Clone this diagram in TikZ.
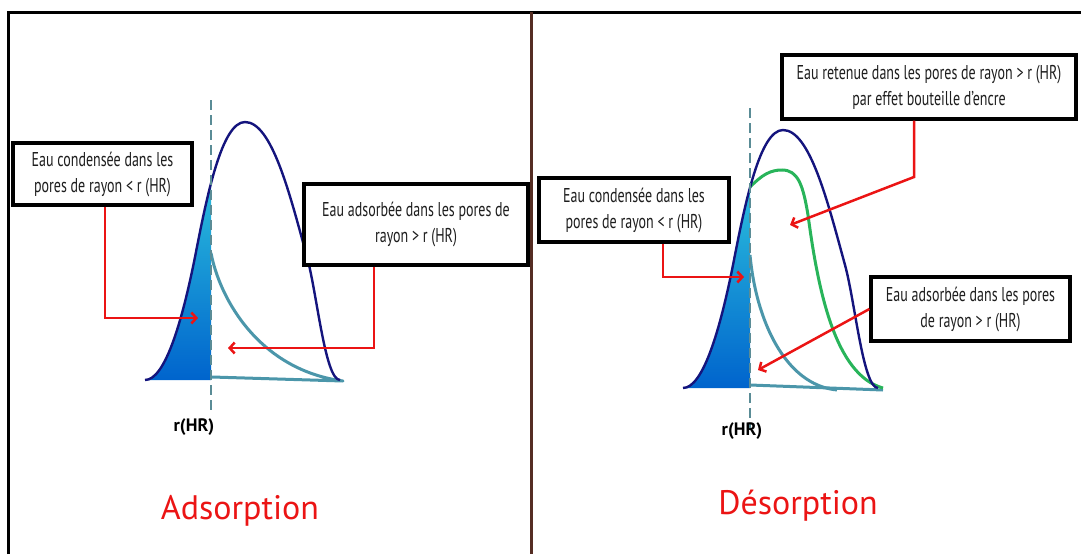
\documentclass[tikz,border=0pt]{standalone}
\usepackage{fontspec}
\setmainfont{PT Sans}
\newfontfamily\boxfont{PT Sans}[FakeStretch=0.7]
\usetikzlibrary{arrows.meta}
\definecolor{navyc}{RGB}{20,20,125}
\definecolor{tealc}{RGB}{75,150,170}
\definecolor{greenc}{RGB}{40,180,90}
\definecolor{dashc}{RGB}{90,140,150}
\definecolor{redc}{RGB}{235,20,20}
\definecolor{brownc}{RGB}{85,45,35}
\definecolor{cyanc}{RGB}{55,215,225}
\definecolor{bluec}{RGB}{0,100,205}
\definecolor{textc}{RGB}{30,30,30}
\tikzset{
  infobox/.style={draw=black, line width=3.2pt, fill=white, align=center, inner sep=0pt,
    text=textc, font=\boxfont\fontsize{20}{26}\selectfont},
  redarrow/.style={draw=redc, line width=2.5pt, line join=miter,
    -{Straight Barb[length=5pt,width=11pt]}},
  navyline/.style={draw=navyc, line width=2.4pt},
  tealline/.style={draw=tealc, line width=3pt, line join=round},
  greenline/.style={draw=greenc, line width=3pt},
  dashline/.style={draw=dashc, line width=2pt, dash pattern=on 10pt off 5pt},
  title/.style={text=redc, font=\fontsize{34}{40}\selectfont},
  rlabel/.style={font=\bfseries\fontsize{18}{22}\selectfont}
}
\newcommand{\bellpath}{(145,380) .. controls (165,380) and (182,322) .. (195,257)
  .. controls (207,195) and (222,122) .. (245,122)
  .. controls (272,122) and (290,195) .. (307,257)
  .. controls (317,293) and (325,380) .. (340,380)}
\begin{document}
\begin{tikzpicture}[x=1pt,y=-1pt]
\useasboundingbox (0,0) rectangle (1081,554);
% frame
\draw[line width=3pt] (8,554) -- (8,12) -- (1081,12);
\draw[brownc, line width=3pt] (531,12) -- (531,554);

% ---------- left panel ----------
\begin{scope}
  \clip (0,0) rectangle (211,380);
  \shade[top color=cyanc, bottom color=bluec] \bellpath -- cycle;
\end{scope}
\draw[tealline] (211,253) .. controls (220,300) and (260,370) .. (343,381) -- (212,377);
\draw[navyline] \bellpath;
\draw[dashline] (211,100) -- (211,410);
\node[rlabel] (lr) at (194,427) {r(HR)};

\node[infobox, minimum width=179pt, minimum height=62pt] (L1) at (102.5,174)
  {Eau condensée dans les\\pores de rayon < r (HR)};
\node[infobox, minimum width=224pt, minimum height=81pt] (L2) at (416,224.5)
  {Eau adsorbée dans les pores de\\rayon > r (HR)};
\coordinate (tipL1) at (198,318);
\coordinate (tipL2) at (228,348);
\draw[redarrow] ([xshift=2.5pt]L1.south) |- (tipL1);
\draw[redarrow] ([xshift=-42pt]L2.south) |- (tipL2);

\node[title] (tA) at (240,511) {Adsorption};

% ---------- right panel ----------
\begin{scope}[shift={(538,8)}]
  \begin{scope}
    \clip (0,0) rectangle (212,380);
    \shade[top color=cyanc, bottom color=bluec] \bellpath -- cycle;
  \end{scope}
\end{scope}
\draw[tealline] (750,255) .. controls (756,320) and (785,385) .. (837,390);
\draw[tealline] (750,385) -- (883,390);
\draw[greenline] (750,187) .. controls (762,175) and (770,170) .. (782,170)
  .. controls (798,170) and (803,185) .. (808,215)
  .. controls (818,290) and (835,375) .. (883,388);
\begin{scope}[shift={(538,8)}]
  \draw[navyline] \bellpath;
\end{scope}
\draw[dashline] (750,108) -- (750,430);
\node[rlabel] (rr) at (742,431) {r(HR)};

\node[infobox, minimum width=190pt, minimum height=64pt] (R1) at (634,210)
  {Eau condensée dans les\\pores de rayon < r (HR)};
\node[infobox, minimum width=294pt, minimum height=64pt] (R2) at (929,87)
  {Eau retenue dans les pores de rayon > r (HR)\\par effet bouteille d’encre};
\node[infobox, minimum width=199pt, minimum height=64pt] (R3) at (970.5,309)
  {Eau adsorbée dans les pores\\de rayon > r (HR)};
\coordinate (tipR1) at (744,277);
\coordinate (bendR2) at (914,177);
\coordinate (tipR2) at (790,225);
\coordinate (tipR3) at (758,370);
\draw[redarrow] ([xshift=29pt]R1.south) |- (tipR1);
\draw[redarrow] ([xshift=-15pt]R2.south) -- (bendR2) -- (tipR2);
\draw[redarrow] (R3.west) -- (tipR3);

\node[title] (tD) at (798,506) {Désorption};
\end{tikzpicture}
\end{document}
